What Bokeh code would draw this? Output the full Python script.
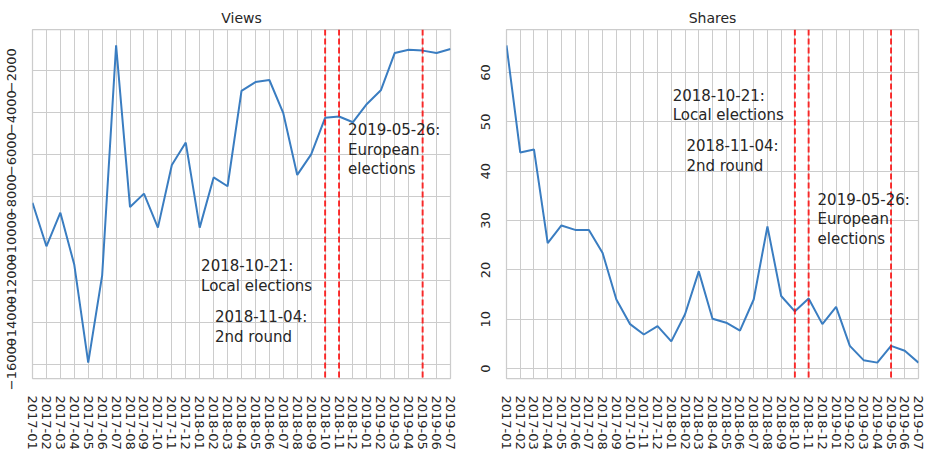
from bokeh.plotting import figure
from bokeh.layouts import row
from bokeh.models import Range1d, FixedTicker, Span, Label
from bokeh.embed import file_html
from bokeh.resources import INLINE

months = ["2017-01", "2017-02", "2017-03", "2017-04", "2017-05", "2017-06",
          "2017-07", "2017-08", "2017-09", "2017-10", "2017-11", "2017-12",
          "2018-01", "2018-02", "2018-03", "2018-04", "2018-05", "2018-06",
          "2018-07", "2018-08", "2018-09", "2018-10", "2018-11", "2018-12",
          "2019-01", "2019-02", "2019-03", "2019-04", "2019-05", "2019-06",
          "2019-07"]

views = [-8320, -10390, -8790, -11270, -15930, -11770, -820, -8520, -7880,
         -9500, -6520, -5450, -9500, -7110, -7530, -2990, -2570, -2470,
         -4050, -6990, -6010, -4270, -4210, -4480, -3610, -2960, -1180,
         -1030, -1070, -1180, -990]

shares = [65.5, 43.8, 44.4, 25.4, 29.0, 28.1, 28.1, 23.4, 14.0, 9.0, 6.9,
          8.6, 5.5, 11.0, 19.7, 10.1, 9.3, 7.7, 14.0, 28.8, 14.7, 11.6, 14.2,
          9.0, 12.5, 4.6, 1.7, 1.2, 4.6, 3.6, 1.2]

views_ticks = [-16000, -14000, -12000, -10000, -8000, -6000, -4000, -2000]
views_tick_labels = ["\u221216000", "\u221214000", "\u221212000", "\u221210000",
                     "\u22128000", "\u22126000", "\u22124000", "\u22122000"]
shares_ticks = [0, 10, 20, 30, 40, 50, 60]
shares_tick_labels = ["0", "10", "20", "30", "40", "50", "60"]

event_months = ["2018-10", "2018-11", "2019-05"]
event_texts = [["2018-10-21:", "Local elections"],
               ["2018-11-04:", "2nd round"],
               ["2019-05-26:", "European", "elections"]]
label_x = [12.1, 13.1, 22.65]
label_y_views = [-11346, -13779, -4871]
label_y_shares = [55.3, 45.1, 34.2]

TXT = "#262626"
GRID = "#cccccc"
FONT = "DejaVu Sans"


def padded(vals):
    lo, hi = min(vals), max(vals)
    m = 0.05 * (hi - lo)
    return Range1d(lo - m, hi + m)


def make(title, vals, ticks, tick_labels, label_y, width, mbl, mbr):
    x = list(range(len(months)))
    p = figure(width=width, height=452, output_backend="svg",
               toolbar_location=None, title=title,
               x_range=Range1d(0, len(months) - 1), y_range=padded(vals),
               min_border_left=mbl, min_border_right=mbr,
               min_border_top=29, min_border_bottom=70)
    p.background_fill_color = "white"
    p.border_fill_color = "white"
    p.outline_line_color = GRID
    p.outline_line_width = 1.25

    p.title.align = "center"
    p.title.text_font = FONT
    p.title.text_font_style = "normal"
    p.title.text_font_size = "14px"
    p.title.text_color = TXT
    p.title.standoff = 8

    p.xaxis.ticker = FixedTicker(ticks=x)
    p.xaxis.major_label_overrides = {i: m for i, m in enumerate(months)}
    p.xaxis.major_label_orientation = "vertical"
    p.xaxis.major_label_standoff = 11
    p.yaxis.ticker = FixedTicker(ticks=ticks)
    p.yaxis.major_label_overrides = {t: l for t, l in zip(ticks, tick_labels)}
    p.yaxis.major_label_orientation = "vertical"
    p.yaxis.major_label_standoff = 10
    for ax in (p.xaxis, p.yaxis):
        ax.axis_line_color = None
        ax.major_tick_line_color = None
        ax.minor_tick_line_color = None
        ax.major_label_text_font = FONT
        ax.major_label_text_font_size = "13px"
        ax.major_label_text_color = TXT
    for g in (p.xgrid, p.ygrid):
        g.grid_line_color = GRID
        g.grid_line_width = 1

    p.line(x, vals, line_color="#3a7dc1", line_width=2)

    for m in event_months:
        p.add_layout(Span(location=months.index(m), dimension="height",
                          line_color="red", line_alpha=0.8,
                          line_dash="6 3", line_width=2))

    for lx, ly, lines in zip(label_x, label_y, event_texts):
        for k, t in enumerate(lines):
            p.add_layout(Label(x=lx, y=ly, x_units="data", y_units="data",
                               text=t, y_offset=-19.5 * k,
                               text_font=FONT, text_font_size="15px",
                               text_color=TXT, text_baseline="middle",
                               text_align="left"))
    return p


p1 = make("Views", views, views_ticks, views_tick_labels, label_y_views,
          476, 32, 26)
p2 = make("Shares", shares, shares_ticks, shares_tick_labels, label_y_shares,
          450, 30, 8)

layout = row(p1, p2)
open("out.html", "w").write(file_html(layout, INLINE))
